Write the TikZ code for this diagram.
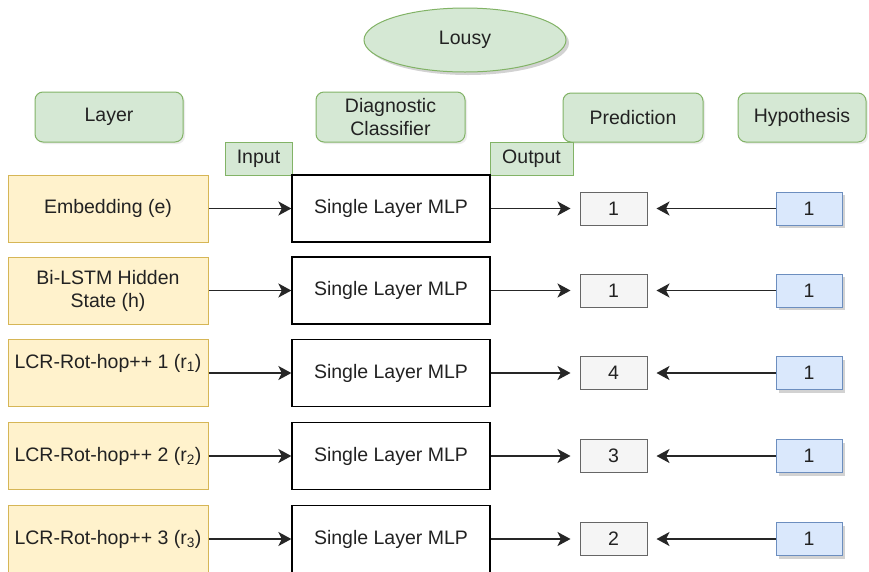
\documentclass[tikz,border=0pt]{standalone}
\usepackage{fontspec}
\setmainfont{Liberation Sans}
\usetikzlibrary{shapes.geometric,arrows.meta,shadows}
\definecolor{gfill}{HTML}{D5E8D4}
\definecolor{gline}{HTML}{82B366}
\definecolor{yfill}{HTML}{FFF2CC}
\definecolor{yline}{HTML}{D6B656}
\definecolor{pfill}{HTML}{F5F5F5}
\definecolor{pline}{HTML}{666666}
\definecolor{bfill}{HTML}{DAE8FC}
\definecolor{bline}{HTML}{6C8EBF}
\definecolor{txt}{HTML}{222222}
\tikzset{
  base/.style={font=\fontsize{19.5}{23}\selectfont, text=txt, inner sep=0pt, align=center},
  header/.style={base, draw=gline, fill=gfill, line width=1pt, rounded corners=8pt,
    drop shadow={opacity=0.15, shadow xshift=2pt, shadow yshift=-2pt}},
  tag/.style={base, draw=gline, fill=gfill, line width=1pt},
  layerbox/.style={base, draw=yline, fill=yfill, line width=1pt, minimum width=200pt, minimum height=67pt},
  mlpbox/.style={base, draw=black, fill=white, line width=1.3pt, minimum width=198pt, minimum height=67pt},
  predbox/.style={base, draw=pline, fill=pfill, line width=1pt, minimum width=67pt, minimum height=33pt},
  hypbox/.style={base, draw=bline, fill=bfill, line width=1pt, minimum width=66pt, minimum height=33pt,
    drop shadow={opacity=0.35, shadow xshift=3pt, shadow yshift=-3pt}},
  arr/.style={line width=1.8pt, draw=black!85, -{Stealth[length=13pt,width=14pt,inset=3.5pt]}}
}
\begin{document}
\begin{tikzpicture}[x=1pt,y=-1pt]
\useasboundingbox (0,0) rectangle (869,571);
\clip (0,0) rectangle (869,571);
\fill[white] (0,0) rectangle (869,571);
% headers
\node[base, ellipse, draw=gline, fill=gfill, line width=1pt, minimum width=202pt, minimum height=64pt,
  drop shadow={opacity=0.35, shadow xshift=3pt, shadow yshift=-3pt}] (lousy) at (465,40) {Lousy};
\node[header, minimum width=148pt, minimum height=50pt] (hlayer) at (109,117) {Layer};
\node[header, minimum width=149pt, minimum height=50pt] (hdiag) at (390.5,117) {Diagnostic\\Classifier};
\node[header, minimum width=140pt, minimum height=49pt] (hpred) at (633,117.5) {Prediction};
\node[header, minimum width=128pt, minimum height=49pt] (hhyp) at (802,117.5) {Hypothesis};
\node[tag, minimum width=67pt, minimum height=33pt] (tin) at (258.5,158.5) {Input};
\node[tag, minimum width=83pt, minimum height=33pt] (tout) at (531.5,158.5) {Output};
% rows
\foreach \i/\y/\lab/\p in {
  1/208.5/{Embedding (e)}/1,
  2/290.5/{Bi-LSTM Hidden\\State (h)}/1,
  3/373/{LCR-Rot-hop++ 1 (r\textsubscript{1})\\\mbox{}}/4,
  4/456/{LCR-Rot-hop++ 2 (r\textsubscript{2})}/3,
  5/539/{LCR-Rot-hop++ 3 (r\textsubscript{3})}/2} {
  \node[layerbox] (L\i) at (108,\y) {\lab};
  \node[mlpbox] (M\i) at (391,\y) {Single Layer MLP};
  \node[predbox] (P\i) at (613.5,\y) {\p};
  \node[hypbox] (H\i) at (809,\y) {1};
  \draw[arr] (L\i) -- (M\i);
  \draw[arr, shorten >=9pt] (M\i) -- (P\i);
  \draw[arr, shorten >=9pt] (H\i) -- (P\i);
}
\end{tikzpicture}
\end{document}
